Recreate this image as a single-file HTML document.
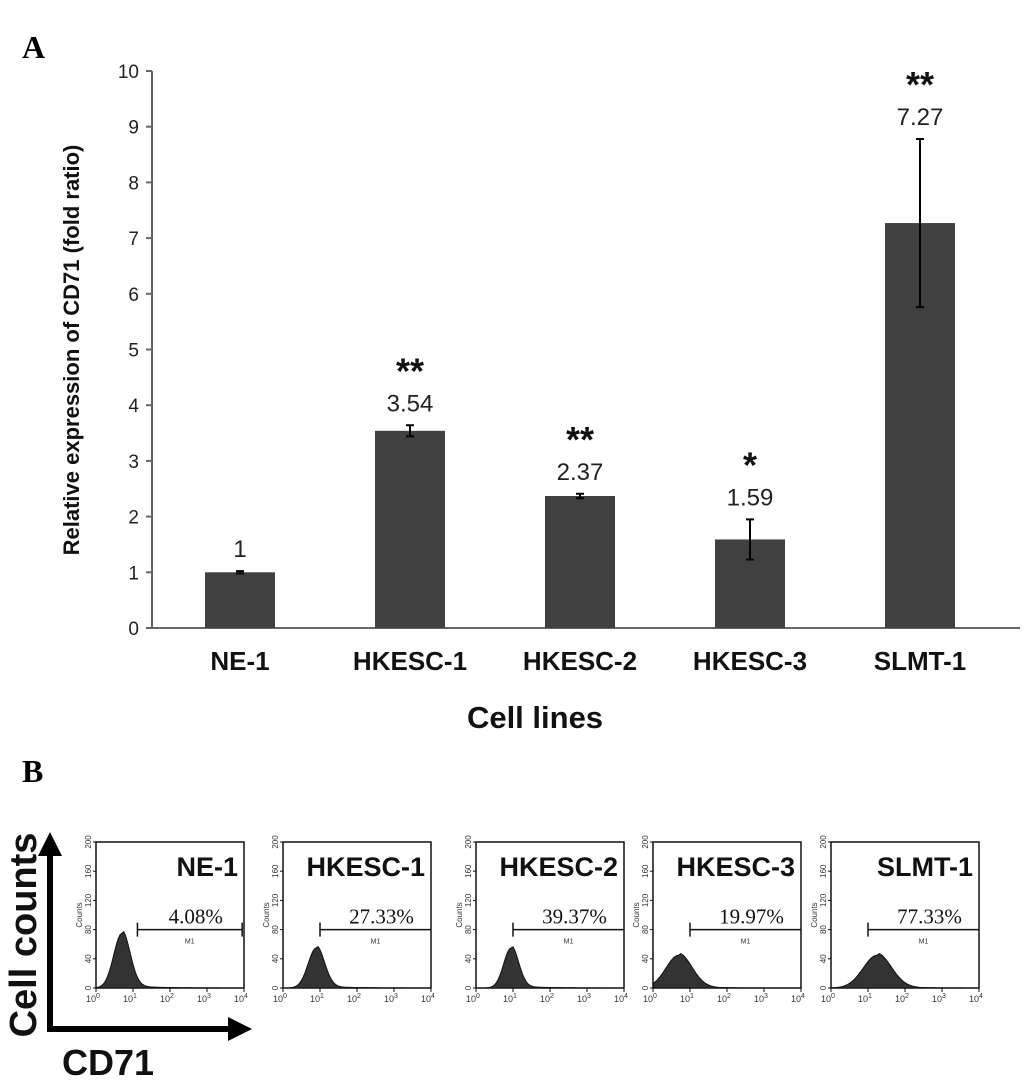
<!DOCTYPE html>
<html><head><meta charset="utf-8"><style>
html,body{margin:0;padding:0;background:#fff;}
svg{display:block;}
text{font-family:"Liberation Sans","DejaVu Sans",sans-serif;}
text.serif{font-family:"Liberation Serif","DejaVu Serif",serif;}
</style></head><body>
<svg id="fig" width="1032" height="1080" viewBox="0 0 1032 1080">
<text class="serif" x="22" y="58" font-weight="bold" font-size="32">A</text>
<text class="serif" x="22" y="782" font-weight="bold" font-size="32">B</text>
<g id="chartA"></g>
<g id="chartB"></g>
</svg>
<script>
const categories = ["NE-1","HKESC-1","HKESC-2","HKESC-3","SLMT-1"];
const values = [1, 3.54, 2.37, 1.59, 7.27];
const valueLabels = ["1","3.54","2.37","1.59","7.27"];
const errors = [0.02, 0.1, 0.04, 0.36, 1.51];
const stars = ["", "**", "**", "*", "**"];
const yTicks = [0,1,2,3,4,5,6,7,8,9,10];
const flowPercents = ["4.08%","27.33%","39.37%","19.97%","77.33%"];
const peakLog = [0.7, 0.9, 0.95, 0.7, 1.25];
const peakCount = [75, 55, 55, 45, 45];
const peakWidth = [0.22, 0.22, 0.2, 0.35, 0.38];
const gateStart = [1.12, 1.0, 1.0, 1.0, 1.0];

const NS="http://www.w3.org/2000/svg";
function mk(tag, attrs, parent, txt){const e=document.createElementNS(NS,tag);for(const k in attrs)e.setAttribute(k,attrs[k]);if(txt!==undefined)e.textContent=txt;parent.appendChild(e);return e;}

// Panel A
const A=document.getElementById('chartA');
const x0=152,x1=1020,yTop=71,yBot=628;
const y=v=>yBot-(v/10)*(yBot-yTop);
const band=170;
const xc=i=>240+band*i;
const bw=70;
let ax=mk('line',{x1:x0,y1:y(0),x2:x0,y2:y(10),stroke:'#666','stroke-width':2},A);

let bx=mk('line',{x1:x0,y1:yBot,x2:x1,y2:yBot,stroke:'#666','stroke-width':2},A);

yTicks.forEach(t=>{
  let l=mk('line',{x1:x0-6,y1:y(t),x2:x0,y2:y(t),stroke:'#666','stroke-width':2},A);
  
  let tx=mk('text',{x:x0-13,y:y(t)+7,'text-anchor':'end','font-size':19,fill:'#222'},A,String(t));
  
});
let yt=mk('text',{transform:'translate(79,350) rotate(-90)','text-anchor':'middle','font-size':22,'font-weight':'bold',fill:'#111'},A,'Relative expression of CD71 (fold ratio)');

categories.forEach((c,i)=>{
  const cx=xc(i);
  let r=mk('rect',{x:cx-bw/2,y:y(values[i]),width:bw,height:yBot-y(values[i]),fill:'#404040'},A);
  
  const e1=y(values[i]+errors[i]),e2=y(values[i]-errors[i]);
  let eg=mk('path',{d:`M${cx},${e1}V${e2}M${cx-4},${e1}H${cx+4}M${cx-4},${e2}H${cx+4}`,stroke:'#000','stroke-width':2,fill:'none'},A);
  
  const topY=Math.min(y(values[i])-14,e1-14);
  let vl=mk('text',{x:cx,y:topY,'text-anchor':'middle','font-size':24,fill:'#222'},A,valueLabels[i]);
  
  if(stars[i]){
    let st=mk('text',{x:cx,y:topY-28,'text-anchor':'middle','font-size':36,'font-weight':'bold',fill:'#111'},A,stars[i]);
    
  }
  let cl=mk('text',{x:cx,y:670,'text-anchor':'middle','font-size':26,'font-weight':'bold',fill:'#111'},A,c);
  
});
let xt=mk('text',{x:535,y:728,'text-anchor':'middle','font-size':31,'font-weight':'bold',fill:'#111'},A,'Cell lines');


// Panel B
const B=document.getElementById('chartB');
const lefts=[96,283,476,653,831], pw=148, bTop=842, bZero=988;
categories.forEach((c,i)=>{
  const L=lefts[i];
  const g=mk('g',{},B);
  
  const hx=d=>L+d/4*pw, hy=n=>bZero-n/200*(bZero-bTop);
  mk('rect',{x:L,y:bTop,width:pw,height:bZero-bTop,fill:'none',stroke:'#111','stroke-width':1.5},g);
  [0,40,80,120,160,200].forEach(t=>{
    mk('line',{x1:L-3,y1:hy(t),x2:L,y2:hy(t),stroke:'#111'},g);
    mk('text',{transform:`translate(${L-5},${hy(t)}) rotate(-90)`,'text-anchor':'middle','font-size':8,fill:'#333'},g,String(t));
  });
  mk('text',{transform:`translate(${L-14},${hy(100)}) rotate(-90)`,'text-anchor':'middle','font-size':8,fill:'#333'},g,'Counts');
  [0,1,2,3,4].forEach(d=>{
    mk('line',{x1:hx(d),y1:bZero,x2:hx(d),y2:bZero+4,stroke:'#111'},g);
    const t=mk('text',{x:hx(d)-3,y:bZero+14,'text-anchor':'middle','font-size':9,fill:'#333'},g,'10');
    mk('tspan',{dy:-4,'font-size':7},t,String(d));
  });
  let d=`M${hx(0.05)},${hy(0)}`;
  for(let k=0;k<=80;k++){const lx=k/20;let n=peakCount[i]*Math.exp(-Math.pow((lx-peakLog[i])/peakWidth[i],2)/2);
    if(lx>peakLog[i]) n+=peakCount[i]*0.06*Math.exp(-(lx-peakLog[i])*1.5);
    d+=`L${hx(lx)},${hy(n)}`;}
  d+=`L${hx(4)},${hy(0)}Z`;
  const h=mk('path',{d:d,fill:'#333',stroke:'#111','stroke-width':1},g);
  
  const gx=hx(gateStart[i]), gy=hy(80), gEnd=(i===0)?hx(3.95):L+pw;
  mk('path',{d:`M${gx},${gy-7}V${gy+7}M${gx},${gy}H${gEnd}`+(i===0?`M${gEnd},${gy-7}V${gy+7}`:''),stroke:'#111','stroke-width':1.5,fill:'none'},g);
  mk('text',{x:(gx+gEnd)/2,y:gy+14,'text-anchor':'middle','font-size':7,fill:'#333'},g,'M1');
  const pt=mk('text',{class:'serif',x:(gx+gEnd)/2+6,y:gy-6,'text-anchor':'middle','font-size':21,fill:'#111'},g,flowPercents[i]);
  
  const nm=mk('text',{x:L+pw-6,y:bTop+34,'text-anchor':'end','font-size':27,'font-weight':'bold',fill:'#111'},g,c);
  
});
const ar=mk('g',{},B);

mk('path',{d:'M50,1032V850',stroke:'#000','stroke-width':6,fill:'none'},ar);
mk('path',{d:'M38,856L50,832L62,856Z',fill:'#000'},ar);
mk('path',{d:'M47,1029H230',stroke:'#000','stroke-width':6,fill:'none'},ar);
mk('path',{d:'M228,1017L252,1029L228,1041Z',fill:'#000'},ar);
const cc=mk('text',{transform:'translate(36,935) rotate(-90)','text-anchor':'middle','font-size':38,'font-weight':'bold',fill:'#111'},B,'Cell counts');

const cd=mk('text',{x:108,y:1075,'text-anchor':'middle','font-size':36,'font-weight':'bold',fill:'#111'},B,'CD71');

</script>
</body></html>
